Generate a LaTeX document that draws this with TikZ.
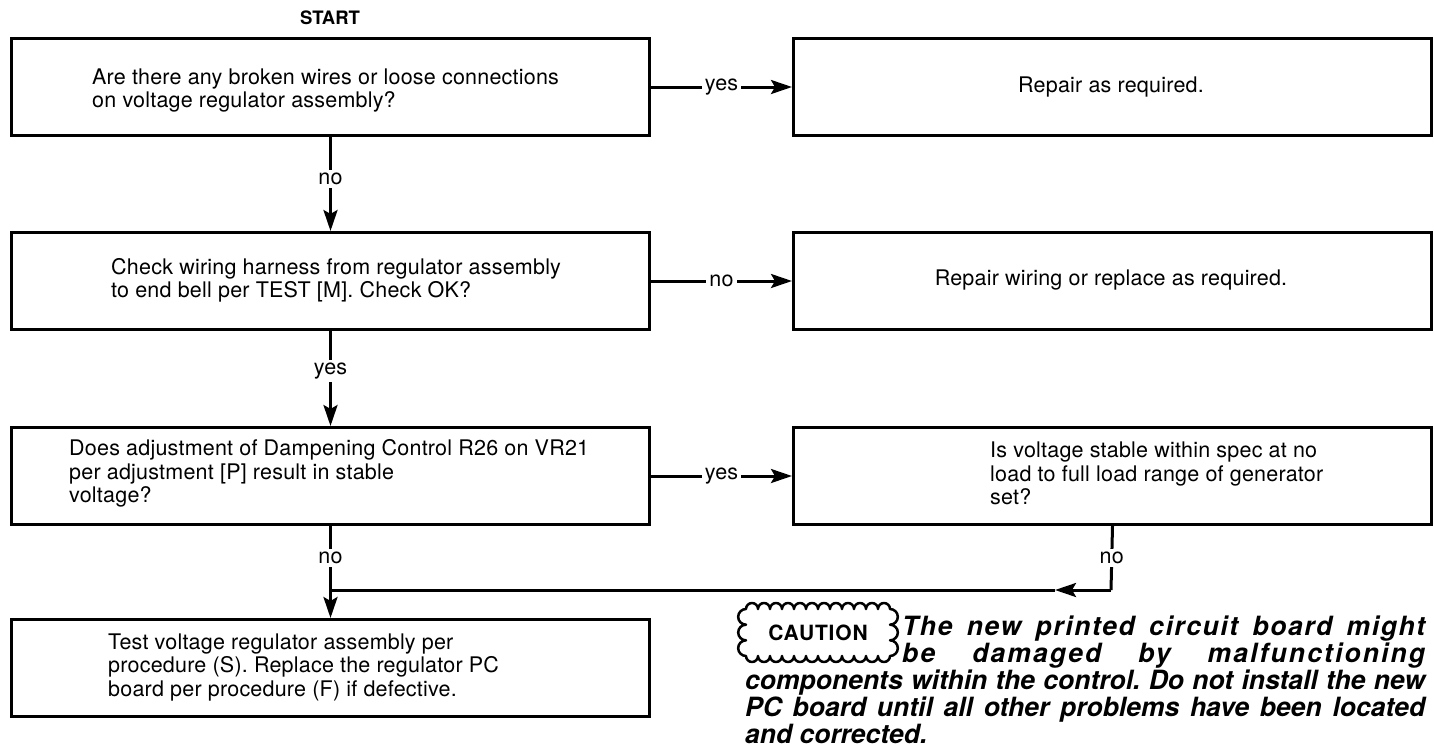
\documentclass[tikz,border=0pt]{standalone}
\usepackage{fontspec}
\setmainfont{TeX Gyre Heros}
\usetikzlibrary{arrows.meta}
\newcommand\fsz{\fontsize{21.5}{23.5}\selectfont\addfontfeature{LetterSpace=1}}
\begin{document}
\begin{tikzpicture}[x=1pt,y=-1pt,
  box/.style={draw, line width=3pt, inner sep=0, anchor=north west, minimum width=638pt, minimum height=97pt},
  txt/.style={align=left, anchor=west, inner sep=0, font=\fsz},
  lbl/.style={fill=white, inner sep=3pt, font=\fsz},
  conn/.style={line width=3pt},
  arr/.style={line width=3pt, -{Stealth[length=21pt,width=14pt,inset=4pt]}}]
\useasboundingbox (0,0) rectangle (1434,753);
\fill[white] (0,0) rectangle (1434,753);

\node[font=\fontsize{18.5}{20}\selectfont\bfseries, inner sep=0] (start) at (330,18) {START};

\node[box] (b1) at (10,37) {};
\node[box] (r1) at (792,37) {};
\node[box] (b2) at (10,231) {};
\node[box] (r2) at (792,231) {};
\node[box] (b3) at (10,426) {};
\node[box] (b4) at (792,426) {};
\node[box] (b5) at (10,618) {};

\node[txt] (t1) at (92,90.5) {Are there any broken wires or loose connections\\on voltage regulator assembly?};
\node[font=\fsz, inner sep=0] (tr1) at (1111,87) {Repair as required.};
\node[txt] (t2) at (111,280.5) {Check wiring harness from regulator assembly\\to end bell per TEST [M]. Check OK?};
\node[font=\fsz, inner sep=0] (tr2) at (1111,280) {Repair wiring or replace as required.};
\node[txt] (t3) at (69,473.5) {Does adjustment of Dampening Control R26 on VR21\\per adjustment [P] result in stable\\voltage?};
\node[txt] (t4) at (990,473.5) {Is voltage stable within spec at no\\load to full load range of generator\\set?};
\node[txt] (t5) at (108,667) {Test voltage regulator assembly per\\procedure (S). Replace the regulator PC\\board per procedure (F) if defective.};

\draw[arr] (b1.east) -- node[lbl]{yes} (r1.west);
\draw[arr] (b1.south) -- node[lbl, pos=0.45]{no} (b2.north);
\draw[arr] (b2.east) -- node[lbl]{no} (r2.west);
\draw[arr] (b2.south) -- node[lbl, pos=0.42]{yes} (b3.north);
\draw[arr] (b3.east) -- node[lbl]{yes} (b4.west);
\draw[arr] (b3.south) -- node[lbl, pos=0.35]{no} (b5.north);

\coordinate (jR) at (1111,590);
\coordinate (jM) at (1055,590);
\coordinate (jL) at (329,590);
\draw[conn] (b4.south) -- node[lbl, pos=0.5]{no} (jR);
\draw[arr] (jR) -- (jM);
\draw[conn] (jM) -- (jL);

% caution box
\draw[line width=2.5pt, line join=round] (746,609)
  \foreach \i in {1,...,12}{ arc[start angle=180, end angle=360, radius=6] }
  \foreach \i in {1,...,3}{ arc[start angle=-90, end angle=90, radius=7.83] }
  \foreach \i in {1,...,12}{ arc[start angle=0, end angle=180, radius=6] }
  \foreach \i in {1,...,3}{ arc[start angle=90, end angle=270, radius=7.83] } -- cycle;
\node[font=\fontsize{21}{22}\selectfont\bfseries\addfontfeature{LetterSpace=4}, inner sep=0] (caut) at (818,633) {CAUTION};

\node[anchor=north west, inner sep=0] (para) at (745,616) {\parbox[t]{680pt}{%
  \fontsize{26.5}{27}\selectfont\bfseries\itshape\frenchspacing
  \hyphenpenalty=10000 \tolerance=10000 \parindent=0pt
  \parshape 3 157pt 523pt 157pt 523pt 0pt 680pt
  {\addfontfeature{LetterSpace=6}The new printed circuit board might}\linebreak
  {\addfontfeature{LetterSpace=8}be damaged by malfunctioning}\linebreak
  components within the control. Do not install the new\linebreak
  PC board until all other problems have been located\linebreak
  and corrected.\par}};
\end{tikzpicture}
\end{document}
